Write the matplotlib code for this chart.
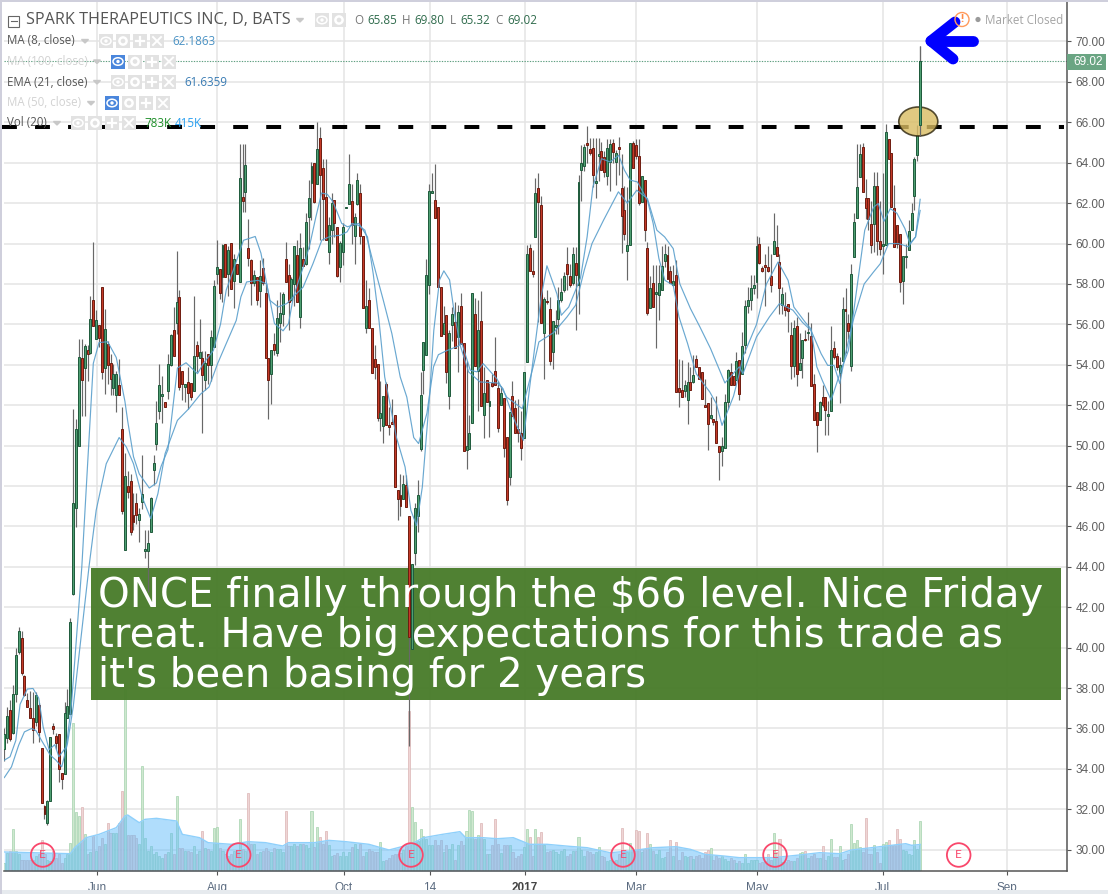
import matplotlib
matplotlib.use('Agg')
import matplotlib.pyplot as plt
from matplotlib.patches import Rectangle, Ellipse, Circle
from matplotlib.transforms import Affine2D, blended_transform_factory

# daily bars, 320 sessions
opens = [
    35.0, 35.55, 36.9, 35.8, 37.73, 39.76, 40.5, 38.6, 37.4, 36.99,
    36.54, 36.3, 37.16, 35.01, 32.17, 31.3, 32.42, 36.1, 35.64, 35.75,
    33.82, 33.77, 36.54, 36.74, 42.64, 46.93, 49.98, 54.36, 53.84, 54.75,
    54.6, 57.2, 55.3, 55.99, 57.85, 53.86, 55.05, 54.1, 52.85, 52.5,
    53.0, 50.84, 44.82, 48.0, 48.27, 46.58, 47.18, 46.34, 47.2, 44.8,
    44.79, 45.73, 48.8, 50.1, 51.72, 52.46, 52.18, 52.7, 54.0, 55.74,
    56.07, 57.33, 53.68, 52.9, 53.15, 53.1, 52.7, 55.0, 54.36, 54.36,
    53.27, 54.55, 54.0, 54.88, 58.47, 58.75, 58.35, 60.0, 58.5, 60.05,
    58.15, 58.97, 58.11, 62.29, 62.56, 59.77, 59.2, 58.04, 58.33, 57.66,
    58.78, 57.57, 54.36, 53.56, 55.05, 54.6, 56.09, 56.53, 59.26, 58.42,
    57.2, 57.99, 59.41, 56.37, 59.26, 58.98, 61.29, 63.02, 64.01, 62.97,
    65.2, 63.76, 62.28, 59.59, 60.69, 62.18, 60.84, 58.84, 59.59, 61.77,
    61.98, 62.13, 60.38, 61.98, 62.52, 60.38, 55.83, 57.23, 55.84, 54.27,
    54.06, 51.37, 50.99, 53.07, 51.02, 51.17, 51.53, 47.82, 47.57, 47.38,
    48.07, 46.51, 39.93, 44.69, 46.51, 49.85, 53.76, 54.5, 57.97, 62.52,
    62.18, 61.82, 57.85, 55.54, 56.45, 52.46, 55.99, 56.14, 55.38, 56.93,
    55.1, 49.8, 49.82, 51.12, 56.53, 53.7, 56.19, 51.52, 53.27, 51.96,
    53.12, 53.71, 52.84, 52.03, 52.38, 50.43, 48.45, 52.47, 51.88, 50.84,
    50.6, 50.4, 54.14, 59.8, 58.66, 60.33, 62.77, 61.93, 55.58, 57.16,
    56.78, 54.64, 55.87, 56.27, 57.19, 57.72, 59.01, 58.37, 58.07, 59.06,
    57.97, 63.63, 63.86, 64.98, 64.7, 64.72, 63.02, 64.31, 64.59, 64.29,
    63.36, 64.05, 64.98, 64.05, 64.8, 62.77, 61.65, 59.64, 59.95, 65.0,
    64.9, 64.31, 62.06, 63.17, 59.8, 56.83, 58.07, 57.5, 57.44, 57.69,
    59.14, 59.41, 58.65, 57.97, 58.42, 52.83, 52.77, 52.7, 52.28, 53.17,
    53.15, 54.29, 53.88, 53.65, 52.03, 52.12, 51.36, 51.34, 51.24, 50.0,
    49.75, 49.9, 52.14, 53.63, 53.45, 53.27, 54.22, 53.55, 54.97, 56.91,
    57.23, 57.82, 58.1, 60.0, 58.78, 58.96, 58.84, 58.38, 59.46, 59.85,
    59.11, 56.98, 56.9, 57.03, 55.48, 53.93, 55.91, 53.73, 54.33, 55.29,
    55.58, 55.4, 53.07, 51.67, 51.25, 52.4, 52.4, 51.46, 51.73, 54.83,
    54.41, 53.58, 54.19, 56.73, 56.09, 53.93, 59.34, 61.25, 63.27, 64.8,
    62.24, 62.24, 60.95, 60.95, 62.87, 60.13, 59.9, 59.95, 65.15, 64.46,
    61.74, 60.94, 60.45, 58.15, 59.34, 59.7, 60.66, 62.37, 64.38, 65.85,
]
highs = [
    36.0, 37.07, 37.4, 38.15, 39.96, 41.03, 40.8, 38.65, 37.75, 37.85,
    37.8, 37.8, 37.25, 35.01, 32.2, 32.45, 35.6, 36.25, 35.8, 35.75,
    33.82, 37.3, 37.97, 41.45, 51.83, 51.3, 55.26, 55.26, 55.05, 54.97,
    57.39, 60.08, 56.7, 55.99, 57.85, 56.75, 55.2, 54.55, 54.06, 53.7,
    54.3, 51.9, 49.65, 48.73, 48.6, 47.66, 47.66, 46.9, 49.52, 45.8,
    45.8, 47.45, 49.52, 52.2, 54.06, 53.43, 52.18, 54.55, 55.5, 56.86,
    59.62, 57.69, 53.68, 53.07, 53.9, 53.1, 57.39, 55.2, 56.25, 54.7,
    54.7, 54.55, 55.7, 58.2, 60.16, 58.75, 60.0, 60.0, 59.9, 60.05,
    59.5, 58.97, 64.93, 64.93, 64.95, 61.2, 59.23, 58.7, 58.33, 59.2,
    59.3, 58.0, 54.36, 54.75, 55.55, 57.2, 57.6, 57.6, 60.08, 59.0,
    58.35, 59.9, 60.16, 60.5, 59.85, 61.49, 63.14, 64.05, 64.01, 66.0,
    65.78, 64.2, 64.2, 61.3, 62.5, 62.18, 60.84, 60.15, 61.0, 61.83,
    64.42, 62.97, 61.5, 63.47, 62.97, 60.38, 58.18, 57.78, 55.84, 54.97,
    54.06, 53.2, 52.44, 53.15, 51.9, 52.3, 51.53, 47.82, 48.6, 48.55,
    48.55, 46.51, 44.13, 47.15, 48.3, 53.65, 55.13, 59.26, 62.97, 63.47,
    63.96, 61.82, 57.85, 56.9, 56.45, 55.7, 56.86, 57.1, 56.95, 57.56,
    55.1, 54.2, 51.5, 57.57, 57.3, 57.2, 57.65, 53.9, 53.27, 53.1,
    53.55, 55.38, 53.2, 52.95, 52.38, 50.43, 51.67, 53.18, 52.25, 52.3,
    51.7, 53.66, 59.95, 60.0, 59.7, 63.24, 63.5, 62.35, 57.36, 57.7,
    57.35, 56.19, 56.7, 57.85, 58.3, 58.6, 59.85, 59.0, 59.85, 59.85,
    63.4, 64.9, 64.95, 65.8, 65.2, 65.2, 65.2, 65.2, 65.03, 64.6,
    65.15, 65.15, 65.15, 64.65, 65.25, 64.45, 62.85, 62.8, 65.0, 65.1,
    65.15, 65.15, 63.3, 63.17, 60.1, 58.4, 58.95, 58.95, 58.95, 59.9,
    60.0, 59.9, 58.9, 58.95, 59.2, 54.3, 54.25, 53.25, 54.15, 53.9,
    54.5, 54.5, 53.88, 53.65, 53.3, 52.12, 52.4, 51.34, 52.45, 50.0,
    50.45, 52.56, 53.8, 54.1, 53.45, 54.62, 54.22, 55.6, 57.2, 57.85,
    58.44, 58.45, 60.35, 60.33, 58.9, 59.5, 59.9, 59.5, 61.52, 60.9,
    59.5, 57.85, 57.6, 57.03, 56.1, 56.2, 56.35, 55.55, 54.95, 55.7,
    56.6, 56.05, 53.55, 51.67, 52.2, 53.0, 52.4, 52.2, 55.91, 55.2,
    54.6, 54.4, 57.35, 57.8, 56.5, 59.0, 61.5, 64.94, 64.95, 65.0,
    63.2, 62.24, 62.1, 63.55, 63.55, 62.1, 63.5, 65.9, 65.15, 64.46,
    62.9, 60.94, 60.45, 59.37, 59.97, 61.15, 61.99, 64.3, 65.85, 69.8,
]
lows = [
    34.4, 35.3, 35.4, 35.75, 37.32, 39.7, 38.65, 37.6, 37.07, 36.54,
    35.29, 36.1, 35.34, 32.32, 31.5, 31.2, 32.4, 35.75, 35.0, 33.35,
    33.0, 33.77, 36.54, 36.74, 42.6, 45.97, 49.98, 51.45, 51.45, 53.2,
    54.55, 55.9, 55.3, 54.88, 53.3, 52.57, 53.07, 52.5, 52.5, 51.67,
    52.5, 46.6, 44.82, 47.4, 45.56, 45.8, 46.14, 45.23, 46.88, 44.46,
    42.75, 45.73, 48.04, 49.77, 51.34, 51.1, 51.91, 52.33, 53.95, 54.44,
    55.5, 52.74, 52.28, 52.16, 51.83, 52.27, 52.7, 53.65, 54.36, 50.6,
    52.75, 53.07, 53.2, 54.88, 58.0, 57.27, 57.1, 58.35, 57.4, 57.77,
    56.8, 58.47, 58.11, 61.56, 61.56, 58.9, 56.95, 57.9, 56.95, 56.87,
    57.95, 54.36, 51.34, 52.08, 54.5, 54.45, 55.13, 55.9, 58.1, 55.71,
    57.15, 56.9, 57.11, 55.84, 58.9, 58.95, 59.75, 61.15, 62.0, 62.97,
    60.17, 60.17, 60.2, 59.0, 60.0, 60.3, 58.35, 58.1, 58.95, 61.77,
    61.98, 60.0, 59.0, 61.9, 60.0, 56.83, 55.55, 55.84, 53.6, 53.3,
    51.2, 50.7, 50.13, 51.0, 50.5, 51.09, 47.95, 46.3, 46.5, 47.38,
    46.96, 35.15, 39.93, 44.1, 45.73, 49.75, 52.57, 54.5, 57.52, 62.5,
    61.24, 57.85, 55.4, 55.54, 53.1, 51.83, 55.17, 54.83, 53.65, 55.02,
    49.74, 48.83, 49.82, 51.12, 53.93, 51.7, 51.95, 50.4, 52.16, 50.43,
    52.9, 52.99, 50.69, 52.03, 49.43, 47.05, 48.04, 51.45, 50.64, 50.18,
    49.3, 50.4, 54.14, 58.65, 58.35, 60.33, 56.12, 56.09, 53.32, 57.0,
    54.0, 53.8, 55.5, 55.5, 57.1, 57.6, 57.7, 57.85, 57.95, 55.71,
    56.53, 62.1, 63.6, 64.0, 64.4, 62.8, 62.25, 63.1, 63.63, 63.3,
    62.9, 62.6, 64.0, 62.9, 63.4, 59.54, 60.2, 58.22, 59.95, 63.75,
    64.2, 61.9, 62.06, 60.13, 56.45, 56.83, 56.9, 54.85, 56.2, 57.69,
    58.85, 58.25, 58.05, 57.9, 52.66, 51.9, 52.4, 52.4, 51.07, 52.77,
    53.1, 53.88, 53.32, 52.3, 51.9, 49.8, 51.3, 51.0, 50.15, 48.32,
    48.98, 49.9, 51.8, 53.02, 53.0, 53.27, 52.25, 53.55, 54.6, 56.55,
    56.7, 57.5, 57.3, 59.0, 58.6, 56.9, 58.6, 57.6, 59.46, 59.39,
    56.5, 56.53, 56.4, 55.6, 53.32, 53.4, 52.95, 53.73, 53.35, 55.2,
    55.25, 52.95, 51.25, 49.69, 51.25, 51.9, 50.5, 50.5, 51.73, 54.3,
    53.75, 52.1, 54.19, 54.6, 55.3, 53.7, 59.34, 61.25, 63.27, 62.55,
    61.2, 60.66, 59.55, 59.6, 59.45, 59.45, 58.5, 59.95, 64.16, 61.82,
    59.84, 59.8, 57.6, 57.03, 58.8, 59.7, 60.66, 61.65, 64.1, 65.32,
]
closes = [
    35.75, 36.63, 35.47, 37.73, 39.66, 40.82, 38.76, 37.65, 37.07, 36.54,
    35.92, 37.65, 35.83, 32.32, 31.79, 32.42, 35.59, 35.98, 35.26, 33.97,
    33.52, 36.78, 37.12, 41.25, 47.18, 50.84, 54.4, 53.27, 54.95, 54.54,
    56.29, 55.9, 56.24, 55.33, 53.65, 55.79, 54.0, 53.28, 53.56, 53.56,
    52.5, 46.77, 48.5, 47.7, 45.73, 46.22, 46.55, 46.63, 47.62, 44.9,
    45.2, 47.43, 49.16, 51.14, 53.02, 52.56, 51.91, 54.06, 55.46, 54.44,
    57.13, 52.9, 53.07, 53.07, 52.6, 52.4, 54.42, 54.42, 54.64, 53.51,
    54.1, 54.0, 55.38, 57.92, 58.85, 57.57, 59.92, 58.35, 59.67, 57.77,
    59.25, 58.47, 63.23, 62.09, 63.89, 59.28, 58.05, 58.43, 57.2, 58.4,
    58.07, 54.36, 53.27, 54.75, 54.75, 56.34, 56.57, 57.52, 58.1, 57.13,
    58.27, 59.9, 57.11, 59.8, 58.9, 61.09, 62.23, 63.86, 62.06, 64.7,
    63.38, 62.19, 60.2, 60.94, 62.03, 61.04, 58.4, 60.05, 60.8, 61.83,
    62.97, 60.94, 61.32, 63.17, 60.38, 56.83, 56.9, 55.84, 53.6, 53.89,
    51.37, 51.63, 52.44, 51.0, 50.92, 51.09, 47.95, 47.38, 47.01, 48.12,
    46.96, 40.52, 44.13, 46.9, 47.55, 52.49, 55.13, 58.42, 62.61, 62.62,
    61.24, 57.85, 55.4, 56.09, 53.65, 55.59, 56.53, 54.83, 56.63, 55.02,
    49.74, 49.98, 50.6, 57.57, 53.93, 55.74, 51.95, 52.62, 52.16, 52.21,
    52.95, 52.99, 50.89, 52.62, 49.88, 47.33, 51.67, 51.45, 50.64, 50.6,
    49.88, 53.66, 59.5, 58.65, 58.47, 62.48, 62.06, 56.09, 57.28, 57.11,
    54.19, 56.19, 55.99, 57.23, 57.62, 58.37, 58.5, 57.97, 59.46, 58.45,
    63.07, 64.01, 64.8, 64.9, 64.49, 63.4, 63.09, 64.41, 63.63, 63.55,
    64.75, 64.95, 64.54, 64.46, 64.68, 61.37, 60.48, 59.95, 65.0, 63.75,
    64.34, 62.03, 63.36, 60.69, 56.57, 57.82, 56.86, 57.6, 58.07, 58.91,
    59.5, 58.25, 58.06, 58.13, 52.66, 52.66, 52.4, 52.99, 53.17, 52.77,
    53.51, 53.88, 53.32, 52.3, 51.9, 51.09, 51.49, 51.17, 50.15, 49.67,
    50.0, 52.14, 53.76, 53.02, 53.02, 54.18, 52.53, 54.93, 56.93, 57.23,
    57.82, 57.97, 59.9, 59.04, 58.65, 58.84, 58.63, 57.95, 60.15, 59.39,
    57.81, 57.48, 56.73, 56.68, 53.93, 55.84, 53.56, 54.11, 55.21, 55.24,
    55.61, 52.95, 51.25, 51.0, 52.14, 52.0, 51.75, 51.56, 54.75, 54.39,
    53.9, 54.0, 56.78, 56.68, 55.68, 58.51, 61.08, 62.8, 64.43, 62.55,
    61.78, 61.2, 59.95, 62.87, 60.13, 59.75, 60.0, 65.5, 64.16, 61.82,
    59.84, 59.97, 58.1, 59.37, 59.37, 60.64, 61.52, 64.16, 65.37, 69.02,
]
# volume in thousands of shares
volumes = [
    130, 285, 310, 650, 310, 260, 180, 180, 180, 180,
    180, 235, 260, 490, 260, 180, 155, 310, 210, 260,
    130, 210, 260, 440, 2320, 920, 860, 1000, 580, 260,
    290, 545, 310, 390, 520, 415, 750, 600, 600, 600,
    750, 1250, 2850, 570, 570, 570, 520, 415, 1640, 520,
    310, 390, 260, 290, 240, 210, 260, 290, 600, 260,
    1175, 365, 365, 310, 310, 290, 390, 260, 310, 625,
    355, 340, 310, 680, 690, 365, 310, 260, 235, 260,
    310, 310, 810, 340, 310, 1215, 420, 420, 260, 290,
    310, 365, 310, 290, 365, 340, 340, 290, 940, 390,
    390, 420, 390, 430, 420, 400, 360, 940, 380, 690,
    530, 420, 625, 400, 240, 250, 280, 240, 300, 240,
    290, 380, 420, 340, 430, 240, 300, 340, 320, 300,
    300, 450, 160, 170, 210, 250, 270, 270, 280, 330,
    390, 2500, 1010, 770, 470, 650, 545, 500, 410, 400,
    480, 410, 490, 290, 400, 350, 420, 170, 400, 470,
    400, 620, 950, 935, 500, 570, 745, 500, 270, 270,
    410, 810, 420, 280, 400, 410, 400, 300, 200, 240,
    270, 370, 650, 530, 240, 665, 530, 610, 400, 290,
    320, 330, 290, 260, 320, 340, 240, 260, 320, 320,
    530, 330, 240, 320, 300, 260, 290, 375, 230, 220,
    160, 170, 160, 180, 260, 670, 290, 290, 440, 330,
    640, 620, 300, 340, 590, 415, 310, 270, 330, 200,
    220, 300, 480, 230, 450, 170, 290, 240, 220, 230,
    190, 230, 250, 200, 300, 330, 365, 180, 240, 200,
    240, 190, 160, 200, 170, 130, 150, 120, 260, 120,
    170, 170, 170, 130, 140, 160, 260, 180, 590, 300,
    500, 140, 140, 170, 160, 150, 200, 280, 300, 320,
    210, 230, 260, 200, 210, 390, 180, 240, 500, 220,
    220, 390, 170, 190, 260, 730, 440, 480, 380, 300,
    830, 260, 260, 405, 290, 130, 420, 450, 480, 400,
    400, 650, 500, 330, 310, 270, 250, 480, 340, 783,
]
# indicator lines, read at bar positions
ma8_bars = [0, 2, 4, 5.5, 8, 10, 12, 13.5, 15.6, 17.6, 19, 21.6, 23.4, 27, 30, 31, 33, 36, 39, 42,
            43, 45, 47, 50.5, 53, 54.6, 57, 60.3, 63.3, 67.3, 69.3, 72.8, 75.3, 77.3, 79.8, 83.3, 87.4, 89.4, 91.4,
            92.4, 94.1, 97.1, 99, 100.7, 104.5, 106.5, 108.5, 110.5, 112.5, 114.5, 117.5, 119.5, 123.5, 126.5, 128.5, 130.5, 132.5, 136.6, 139.6,
            141.6, 143.6, 145.6, 148.1, 149.6, 151.6, 153.1, 155.1, 156.6, 158.7, 161.7, 165.7, 171.7, 173.7, 177.7, 180.8, 183, 185.5, 187, 189,
            192.5, 194, 196.6, 199, 200.7, 203, 205, 208, 211, 214, 216, 218, 220.5, 224, 226, 228, 230.1, 233, 235, 238,
            241, 243.5, 245.7, 248, 250, 254, 256, 257.3, 262, 265.4, 269.5, 273, 275, 279, 281, 283, 285, 288, 291, 294,
            297, 299.7, 302.8, 304.4, 306.4, 308.6, 310.9, 313.7, 315.4, 317.4, 319]
ma8_vals = [34.43, 34.6, 35.4, 37.2, 37.95, 37.98, 37.5, 36.1, 34.95, 35.2, 34.6, 35.1, 37.2, 44.0, 51.6, 54.07, 55.1, 55.14, 54.36, 52.2,
            51.2, 49.45, 48.6, 47.9, 48.15, 48.97, 49.8, 53.84, 54.1, 53.56, 54.06, 54.7, 56.0, 57.7, 58.7, 60.16, 60.35, 59.52, 58.0,
            57.3, 56.04, 55.68, 56.04, 57.36, 59.0, 60.0, 61.3, 62.5, 62.44, 62.06, 61.0, 60.83, 61.0, 60.33, 58.5, 56.2, 53.4, 50.4, 48.94,
            46.8, 46.05, 47.95, 52.4, 55.7, 58.2, 58.65, 58.2, 56.7, 55.0, 53.65, 53.15, 53.1, 52.82, 51.25, 50.26, 52.9, 55.7, 57.36, 58.9,
            57.5, 56.45, 56.86, 57.7, 58.3, 60.33, 62.8, 64.2, 64.04, 64.37, 63.63, 63.14, 63.05, 62.15, 61.0, 59.26, 58.18, 57.93, 56.37, 55.05,
            53.56, 53.07, 52.66, 52.08, 51.0, 52.45, 53.56, 54.4, 56.0, 57.98, 59.09, 58.18, 56.86, 56.1, 55.77, 53.9, 53.2, 52.25, 53.56, 54.7,
            57.85, 60.66, 61.8, 61.98, 61.1, 61.73, 61.5, 60.74, 60.0, 60.33, 62.19]
ema21_bars = [0, 2.5, 5, 7, 9.5, 11, 13, 16, 18, 20, 22, 24, 29.5, 32, 35.5, 40, 42.5, 45, 48, 51,
              53.5, 56, 60.3, 64.3, 68.3, 71.3, 74.3, 77.3, 80.8, 82.4, 84.4, 88.4, 91.4, 92.4, 95.4, 98.4, 101.2, 104.1, 107.5, 110.6,
              113.6, 117, 119.4, 121.1, 123.4, 125.6, 128.6, 132, 135, 137.9, 140.2, 142.6, 144.3, 147.2, 149.5, 151.2, 154.1, 157.7, 159.4, 162.3,
              164.6, 166.8, 171.6, 175, 180.4, 184.5, 186.2, 191.4, 196, 199, 202, 204.7, 208.7, 213.9, 217, 220.3, 224, 227.3, 230, 233,
              235.3, 239, 242.3, 246, 251, 256, 257.3, 262, 266.5, 270, 274.7, 278, 281, 284.5, 286.8, 289, 291, 293, 296, 299.5,
              302.8, 305.1, 308, 311.4, 314.9, 317.4, 319]
ema21_vals = [33.57, 34.1, 35.17, 35.83, 36.0, 35.9, 35.4, 34.68, 34.43, 34.1, 35.25, 37.07, 44.0, 46.8, 49.1, 50.4, 49.93, 49.1, 47.46, 46.39,
              47.62, 49.6, 51.25, 51.83, 52.54, 52.9, 54.06, 55.05, 56.2, 57.36, 58.1, 58.18, 58.0, 57.2, 56.86, 57.03, 57.44, 57.85, 59.0, 60.17,
              60.36, 60.41, 60.58, 61.0, 60.9, 60.66, 59.0, 57.2, 55.54, 53.4, 52.4, 50.4, 50.1, 51.6, 53.9, 54.5, 54.7, 54.9, 55.05, 53.73,
              53.65, 54.06, 53.3, 52.4, 51.83, 54.06, 55.13, 55.6, 56.37, 56.95, 58.68, 60.0, 61.15, 62.56, 62.0, 62.64, 62.23, 60.66, 60.33, 59.75,
              58.0, 56.78, 55.87, 54.8, 53.1, 53.9, 53.56, 55.38, 56.37, 57.03, 56.7, 56.1, 55.7, 54.55, 53.97, 53.97, 53.07, 54.55, 56.37, 58.0,
              58.6, 59.0, 60.0, 60.0, 59.84, 60.33, 61.64]
vol_ma_bars = [0, 23, 24.5, 28.5, 33, 39, 42, 43, 47, 49, 53, 60, 62, 68, 71, 79, 85, 91, 97, 99,
               108, 113, 119, 127, 134, 141.6, 146, 152.6, 158.7, 160.7, 166.7, 171.7, 177.3, 183, 189, 197, 203, 211, 218, 226,
               234, 239, 244, 250.6, 256, 268, 277, 284, 291, 295, 302, 312, 314, 316, 319]
vol_ma_vals = [298, 271, 365, 522, 574, 679, 861, 877, 757, 809, 825, 783, 574, 522, 444, 418, 459, 444, 392, 444,
               444, 480, 459, 418, 329, 418, 522, 574, 616, 522, 522, 506, 522, 418, 418, 386, 365, 287, 313, 365,
               381, 339, 261, 235, 209, 209, 251, 287, 271, 329, 365, 418, 428, 402, 415]
# axis labels
price_ticks = list(range(30, 71, 2))
month_bars = [32.3, 74.1, 118.3, 148.3, 181.4, 220.0, 262.2, 306, 349.2]
month_labels = ['Jun', 'Aug', 'Oct', '14', '2017', 'Mar', 'May', 'Jul', 'Sep']
earnings_x = [42.7, 238.7, 411, 623, 775, 958.7]

W, H = 1108, 894
BAR0, PITCH = 4.3, 2.871
PX_PRICE = 20.205
GRID = '#e4e4e4'

fig = plt.figure(figsize=(W / 100, H / 100), dpi=100)
fig.patch.set_facecolor('white')
ax = fig.add_axes([4 / W, (H - 871) / H, (1067 - 4) / W, (871 - 2) / H])
ax.set_xlim((4 - BAR0) / PITCH, (1067 - BAR0) / PITCH)
ax.set_ylim(70 - (871 - 41.5) / PX_PRICE, 70 + (41.5 - 2) / PX_PRICE)

# pixel coords from the top left, for the drawn-on annotations and legend
px = Affine2D().scale(1, -1).translate(0, H)
vol_y = Affine2D().scale(1, 1 / 15.66).translate(0, H - 871)
vol_tr = blended_transform_factory(ax.transData, vol_y)

# grid
ax.set_yticks(price_ticks)
ax.set_yticklabels([f'{p:.2f}' for p in price_ticks])
ax.set_xticks(month_bars)
ax.set_xticklabels(month_labels)
ax.grid(True, color=GRID, lw=1.1, zorder=0)
ax.set_axisbelow(True)
ax.yaxis.tick_right()
ax.tick_params(axis='y', length=3, width=0.8, color='#555555', labelcolor='#5f5f5f', labelsize=8.5, pad=3)
ax.tick_params(axis='x', length=3, width=0.8, color='#555555', labelcolor='#5b6b80', labelsize=8.5, pad=5)
for lab in ax.get_xticklabels() + ax.get_yticklabels():
    lab.set_family('Liberation Sans')
ax.get_xticklabels()[4].set_weight('bold')
ax.get_xticklabels()[4].set_color('#444444')
for s in ['top', 'left']:
    ax.spines[s].set_visible(False)
for s in ['right', 'bottom']:
    ax.spines[s].set_color('#555555')
    ax.spines[s].set_linewidth(1.1)

# volume
n = len(closes)
bars = list(range(n))
up = [c >= o for o, c in zip(opens, closes)]
vol_face = ['#cfe8cf' if u else '#efd5d5' for u in up]
vol_edge = ['#a5d3ae' if u else '#dcb5b5' for u in up]
ax.bar(bars, volumes, width=0.72, color=vol_face, edgecolor=vol_edge, lw=0.5, transform=vol_tr, zorder=1)
ax.fill_between(vol_ma_bars, 0, vol_ma_vals, color='#62bdfb', alpha=0.5, lw=0, transform=vol_tr, zorder=1.2)
ax.plot(vol_ma_bars, vol_ma_vals, color='#8fd0fb', lw=1.0, transform=vol_tr, zorder=1.3)

# horizontal last price line
ax.axhline(closes[-1], color='#5f9f80', lw=0.8, ls=(0, (1.2, 1.2)), zorder=1.5)

# caption box sits under the candles, its text over them
ax.add_patch(Rectangle((91, 568), 970, 132, transform=px, facecolor='#4a7d2c', edgecolor='none',
                       alpha=0.97, zorder=2, clip_on=False))

# candles
wick_col = '#686868'
ax.vlines(bars, lows, highs, color=wick_col, lw=0.85, zorder=3)
body_low = [min(o, c) for o, c in zip(opens, closes)]
body_h = [max(abs(c - o), 0.06) for o, c in zip(opens, closes)]
face = ['#4f9f72' if u else '#c43a28' for u in up]
edge = ['#1f5a3c' if u else '#6e1c10' for u in up]
ax.bar(bars, body_h, bottom=body_low, width=0.68, color=face, edgecolor=edge, lw=0.7, zorder=3.2)

# moving averages
ax.plot(ma8_bars, ma8_vals, color='#5a9fcc', lw=0.85, alpha=0.9, zorder=3.5)
ax.plot(ema21_bars, ema21_vals, color='#5a9fcc', lw=0.85, alpha=0.9, zorder=3.5)


def ptext(x, y, s, **kw):
    kw.setdefault('va', 'center')
    kw.setdefault('transform', px)
    kw.setdefault('zorder', 8)
    kw.setdefault('clip_on', False)
    return ax.text(x, y, s, **kw)


def pline(xs, ys, **kw):
    kw.setdefault('transform', px)
    kw.setdefault('clip_on', False)
    ax.plot(xs, ys, **kw)


# annotation layer
pline([2, 1064], [126.5, 126.5], color='black', lw=2.9, ls=(0, (3.7, 4.5)), zorder=5, dash_capstyle='butt')
ax.add_patch(Ellipse((918.3, 121.5), 39, 29, transform=px, facecolor='#d9bc62', edgecolor='#2a220a',
                     lw=1.2, alpha=0.8, zorder=5.5, clip_on=False))
# candle of the breakout stays visible through the circle
ax.vlines(bars[-1], lows[-1], highs[-1], color=wick_col, lw=0.85, zorder=5.6)
ax.bar(bars[-1], body_h[-1], bottom=body_low[-1], width=0.68, color=face[-1], edgecolor=edge[-1], lw=0.7, zorder=5.7)
for xs, ys in [([931, 973], [41, 41]), ([931, 955], [41, 22]), ([931, 953], [41, 59])]:
    pline(xs, ys, color='#0000ff', lw=7.8, solid_capstyle='round', zorder=6)

cap = ("ONCE finally through the $66 level. Nice Friday\n"
       "treat. Have big expectations for this trade as\n"
       "it's been basing for 2 years")
ptext(98, 635.5, cap, color='white', fontsize=29.0, family='DejaVu Sans', linespacing=1.0, zorder=7)

# price tag
ax.add_patch(Rectangle((1067, 54), 39, 15.5, transform=px, facecolor='#6aa583', edgecolor='none', zorder=6, clip_on=False))
ptext(1073, 61.8, f'{closes[-1]:.2f}', color='white', fontsize=8.5, family='Liberation Sans')

# earnings markers
for ex in earnings_x:
    ax.add_patch(Circle((ex, 855), 11.8, transform=px, facecolor='none', edgecolor='#f9476b', lw=1.3, zorder=6, clip_on=False))
    ptext(ex, 855, 'E', color='#f9476b', fontsize=8.6, ha='center', family='Lato')

# header
UI = 'Open Sans'
ptext(26, 20.5, 'SPARK THERAPEUTICS INC, D, BATS', color='#555555', fontsize=11.65, family=UI)
ax.add_patch(Rectangle((8, 15.5), 11, 11, transform=px, facecolor='white', edgecolor='#666666', lw=0.8, zorder=8, clip_on=False))
pline([10.5, 16.5], [21, 21], color='#666666', lw=0.8, zorder=9)


def caret(x, y, col='#c8c8c8'):
    ax.fill([x - 3.5, x + 3.5, x], [y - 1.5, y - 1.5, y + 2], color=col, transform=px, zorder=8, clip_on=False)


def btn(x, y, kind, on=False):
    ax.add_patch(Rectangle((x, y - 7), 14, 14, transform=px, facecolor='#4a86dc' if on else '#e2e2e2',
                           edgecolor='none', zorder=8, clip_on=False))
    cx = x + 7
    if kind == 'eye':
        ax.add_patch(Ellipse((cx, y), 10, 7.5, transform=px, facecolor='none', edgecolor='white', lw=1.1, zorder=9, clip_on=False))
        ax.add_patch(Circle((cx, y), 1.7, transform=px, facecolor='white', zorder=9, clip_on=False))
    elif kind == 'gear':
        ax.add_patch(Circle((cx, y), 3.6, transform=px, facecolor='none', edgecolor='white', lw=1.8, zorder=9, clip_on=False))
    elif kind == 'plus':
        pline([cx - 4, cx + 4], [y, y], color='white', lw=1.6, zorder=9)
        pline([cx, cx], [y - 4, y + 4], color='white', lw=1.6, zorder=9)
    else:
        pline([cx - 4, cx + 4], [y - 4, y + 4], color='white', lw=1.4, zorder=9)
        pline([cx - 4, cx + 4], [y + 4, y - 4], color='white', lw=1.4, zorder=9)


caret(300, 20)
btn(315, 20, 'eye')
btn(332, 20, 'gear')
ohlc_x = [354, 367, 402, 414, 450, 460, 495, 507]
ohlc_txt = ['O', '65.85', 'H', '69.80', 'L', '65.32', 'C', '69.02']
for k, (ox, ot) in enumerate(zip(ohlc_x, ohlc_txt)):
    ptext(ox, 20.5, ot, color='#777777' if k % 2 == 0 else '#2f6b4c', fontsize=8.4, family=UI)

legend_rows = [
    ('MA (8, close)', 41, 7, 85, [99, 116, 133, 150], False, '#555555'),
    ('MA (100, close)', 61.5, 7, 97, [111, 128, 145, 162], True, '#d2d2d2'),
    ('EMA (21, close)', 82, 7, 97, [111, 128, 145, 162], False, '#555555'),
    ('MA (50, close)', 103, 7, 91, [105, 122, 139, 156], True, '#d2d2d2'),
    ('Vol (20)', 123, 7, 57, [71, 88, 105, 122], False, '#555555'),
]
for label, y, tx, cx, bx, hidden, col in legend_rows:
    ptext(tx, y, label, color=col, fontsize=8.3, family=UI)
    caret(cx, y)
    for bb, kind in zip(bx, ['eye', 'gear', 'plus', 'x']):
        btn(bb, y, kind, on=hidden and kind == 'eye')
ptext(172, 41.5, '62.1863', color='#4a92c4', fontsize=8.4, family=UI)
ptext(184.5, 82.5, '61.6359', color='#3a7cb4', fontsize=8.4, family=UI)
ptext(144, 123.5, '783K', color='#1f8f2a', fontsize=8.4, family=UI)
ptext(175, 123.5, '415K', color='#2aa0f0', fontsize=8.4, family=UI)

# market status
ax.add_patch(Circle((962, 19.5), 7, transform=px, facecolor='none', edgecolor='#ff9a5c', lw=1.0, zorder=8, clip_on=False))
ptext(962, 19.5, '!', color='#ff8a45', fontsize=8, ha='center', weight='bold', family=UI)
ax.add_patch(Circle((978, 19.5), 2.6, transform=px, facecolor='#9a9a9a', edgecolor='none', zorder=8, clip_on=False))
ptext(985, 20, 'Market Closed', color='#a4a4a4', fontsize=8.4, family=UI)

# window frame
fig.add_artist(Rectangle((0, 0), W, 4, transform=None, facecolor='#e6eaee', edgecolor='none'))
fig.add_artist(Rectangle((0, H - 2), W, 2, transform=None, facecolor='#cfcfdc', edgecolor='none'))
fig.add_artist(Rectangle((0, 0), 2, H, transform=None, facecolor='#cfcfdc', edgecolor='none'))

fig.savefig('out.png', dpi=100)
